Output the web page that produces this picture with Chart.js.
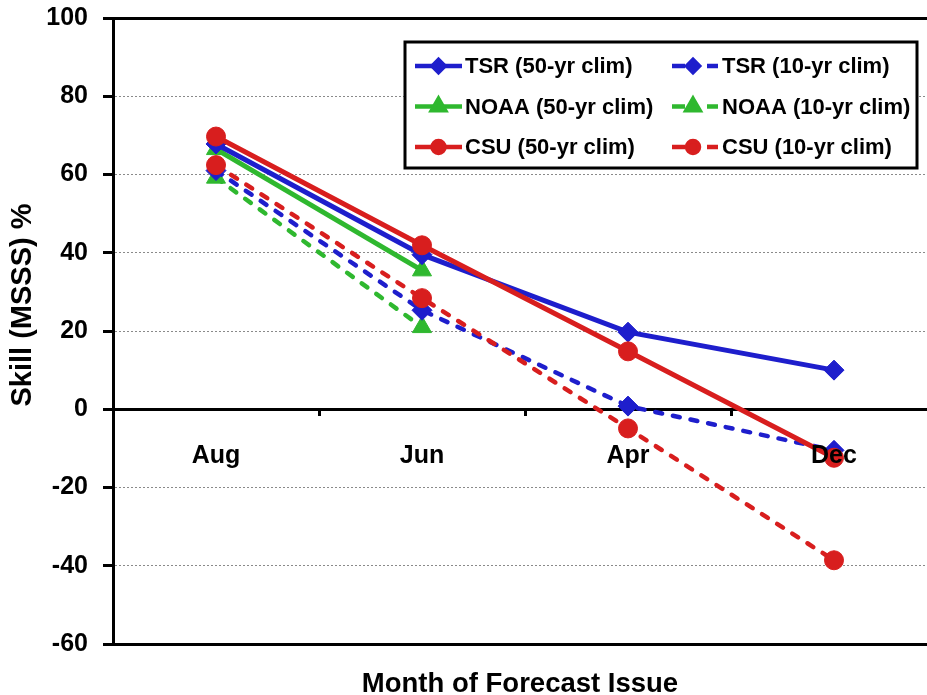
<!DOCTYPE html>
<html><head><meta charset="utf-8">
<script src="https://cdn.jsdelivr.net/npm/chart.js@4.4.1/dist/chart.umd.min.js"></script>
<style>
html,body{margin:0;padding:0;background:#fff;overflow:hidden;}
#wrap{width:927px;height:695px;overflow:hidden;position:relative;background:#fff;}
#c{display:block;}
</style></head><body>
<div id="wrap"><canvas id="c" width="940" height="695"></canvas></div>
<script>
// ---- data ----
const categories = ['Aug', 'Jun', 'Apr', 'Dec'];
const yTickMin = -60, yTickMax = 100, yTickStep = 20;
const tsr50  = [67.8, 39.5, 19.7, 10.0];
const tsr10  = [61.0, 25.3, 0.8, -10.5];
const noaa50 = [66.5, 35.5, null, null];
const noaa10 = [59.2, 21.0, null, null];
const csu50  = [69.7, 41.9, 14.8, -12.4];
const csu10  = [62.4, 28.4, -4.9, -38.6];
const seriesLabels = ['TSR (50-yr clim)', 'TSR (10-yr clim)', 'NOAA (50-yr clim)', 'NOAA (10-yr clim)', 'CSU (50-yr clim)', 'CSU (10-yr clim)'];
const yTitle = 'Skill (MSSS) %';
const xTitle = 'Month of Forecast Issue';

const FONT = "'Liberation Sans', Arial, sans-serif";
const BLUE = '#1e1ecc', GREEN = '#2fb82f', RED = '#d81e1e';
const DASH = [7, 11];

function ds(label, data, color, style, radius, dashed, order) {
  return {
    label, data, borderColor: color, backgroundColor: color,
    pointBackgroundColor: color, pointBorderColor: color,
    pointStyle: style, pointRadius: radius, pointHoverRadius: radius, pointBorderWidth: 1,
    borderWidth: dashed ? 4.5 : 5, borderDash: dashed ? DASH : [],
    borderCapStyle: dashed ? 'round' : 'butt',
    spanGaps: false, tension: 0, order, fill: false
  };
}

const datasets = [
  ds(seriesLabels[0], tsr50, BLUE, 'rectRot', 10, false, 2),
  ds(seriesLabels[1], tsr10, BLUE, 'rectRot', 10, true, 3),
  ds(seriesLabels[2], noaa50, GREEN, 'triangle', 11, false, 4),
  ds(seriesLabels[3], noaa10, GREEN, 'triangle', 11, true, 5),
  ds(seriesLabels[4], csu50, RED, 'circle', 9.5, false, 0),
  ds(seriesLabels[5], csu10, RED, 'circle', 9.5, true, 1)
];

const isFrame = v => v === yTickMax || v === 0 || v === yTickMin;

const decoPlugin = {
  id: 'deco',
  afterDraw(chart) {
    const ctx = chart.ctx;
    const ca = chart.chartArea;
    ctx.save();
    // axis titles
    ctx.fillStyle = '#000';
    ctx.textAlign = 'center';
    ctx.textBaseline = 'middle';
    ctx.save();
    ctx.font = 'bold 29px ' + FONT;
    ctx.translate(23, (ca.top + ca.bottom) / 2 - 26);
    ctx.rotate(-Math.PI / 2);
    ctx.fillText(yTitle, 0, 0);
    ctx.restore();
    ctx.font = 'bold 27.5px ' + FONT;
    ctx.fillText(xTitle, (ca.left + ca.right) / 2 - 5, 684);

    // legend box
    const bx = 405, by = 42, bw = 512, bh = 126;
    ctx.fillStyle = '#fff';
    ctx.fillRect(bx, by, bw, bh);
    ctx.lineWidth = 3;
    ctx.strokeStyle = '#000';
    ctx.strokeRect(bx, by, bw, bh);
    chart.data.datasets.forEach((d, i) => {
      const col = i % 2, row = Math.floor(i / 2);
      const y = 66 + row * 40.5;
      const x0 = col ? 672 : 415, x1 = col ? 718 : 462;
      ctx.save();
      ctx.strokeStyle = d.borderColor;
      ctx.lineWidth = 4.5;
      ctx.lineCap = 'butt';
      ctx.setLineDash(col ? [13, 22] : []);
      ctx.beginPath();
      ctx.moveTo(x0, y); ctx.lineTo(x1, y);
      ctx.stroke();
      ctx.setLineDash([]);
      ctx.fillStyle = d.borderColor;
      Chart.helpers.drawPoint(ctx, {
        pointStyle: d.pointStyle,
        radius: d.pointStyle === 'triangle' ? 7.5 : 6,
        borderWidth: 1, rotation: 0
      }, (x0 + x1) / 2 + (col ? -2 : 0), y);
      ctx.restore();
      ctx.fillStyle = '#000';
      ctx.font = 'bold 22px ' + FONT;
      ctx.textAlign = 'left';
      ctx.textBaseline = 'middle';
      ctx.fillText(d.label, x1 + (col ? 4 : 3), y + 1);
    });
    ctx.restore();
  }
};

new Chart(document.getElementById('c'), {
  type: 'line',
  data: { labels: categories, datasets },
  plugins: [decoPlugin],
  options: {
    responsive: false,
    animation: false,
    devicePixelRatio: 1,
    layout: { autoPadding: false, padding: { top: 18, bottom: 51, left: 0, right: 3 } },
    plugins: { legend: { display: false }, tooltip: { enabled: false }, title: { display: false } },
    scales: {
      x: {
        type: 'category',
        position: { y: 0 },
        offset: true,
        afterFit: s => { s.height = 0; s.paddingTop = 0; s.paddingBottom = 0; },
        border: { display: false },
        grid: {
          offset: true, drawOnChartArea: false, drawTicks: true,
          tickLength: 7, tickWidth: 3, tickColor: '#000', color: '#000', z: 1
        },
        ticks: {
          color: '#000', padding: 25, maxRotation: 0, z: 1,
          font: { family: FONT, size: 25, weight: 'bold' }
        }
      },
      y: {
        min: yTickMin, max: yTickMax,
        afterFit: s => { s.width = 113; s.paddingTop = 0; s.paddingBottom = 0; },
        border: {
          display: true, color: '#000', width: 3,
          dash: c => (c.tick && !isFrame(c.tick.value)) ? [2, 2] : []
        },
        grid: {
          drawOnChartArea: true, drawTicks: true, tickLength: 10,
          color: c => (c.tick && isFrame(c.tick.value)) ? '#000' : '#8a8a8a',
          lineWidth: c => (c.tick && isFrame(c.tick.value)) ? 3 : 1,
          tickColor: '#000', tickWidth: 3
        },
        ticks: {
          stepSize: yTickStep, color: '#000', padding: 15,
          font: { family: FONT, size: 25, weight: 'bold' }
        }
      }
    }
  }
});
</script>
</body></html>
